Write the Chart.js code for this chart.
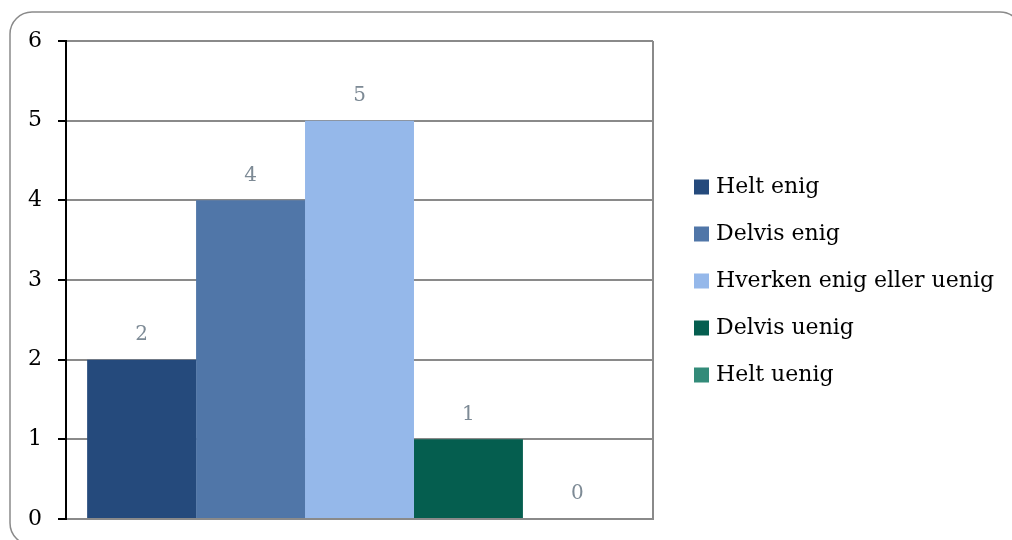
<!DOCTYPE html>
<html>
<head>
<meta charset="utf-8">
<style>
  html, body { margin: 0; padding: 0; background: #ffffff; }
  #wrap { width: 1012px; height: 540px; position: relative; }
</style>
<script src="https://cdn.jsdelivr.net/npm/chart.js@4/dist/chart.umd.min.js"></script>
</head>
<body>
<div id="wrap"><canvas id="c" width="1012" height="540"></canvas></div>
<script>
const categories = [''];
const seriesNames = ['Helt enig', 'Delvis enig', 'Hverken enig eller uenig', 'Delvis uenig', 'Helt uenig'];
const seriesValues = [2, 4, 5, 1, 0];
const seriesColors = ['#254A7C', '#5076A8', '#95B8EA', '#055E4F', '#338B79'];
const yTicks = [0, 1, 2, 3, 4, 5, 6];

const FONT = '"DejaVu Serif", "Liberation Serif", serif';

const frame = {
  id: 'frame',
  beforeDraw(chart) {
    const ctx = chart.ctx;
    ctx.save();
    ctx.strokeStyle = '#8a8a8a';
    ctx.lineWidth = 1.5;
    ctx.beginPath();
    ctx.roundRect(10, 12, 1012, 533, 22);
    ctx.stroke();
    ctx.restore();
  }
};

const valueLabels = {
  id: 'valueLabels',
  afterDatasetsDraw(chart) {
    const ctx = chart.ctx;
    ctx.save();
    ctx.font = '20px ' + FONT;
    ctx.fillStyle = '#7D8A95';
    ctx.textAlign = 'center';
    ctx.textBaseline = 'middle';
    chart.data.datasets.forEach((ds, i) => {
      const meta = chart.getDatasetMeta(i);
      meta.data.forEach((el, j) => {
        ctx.fillText(String(ds.data[j]), el.x, el.y - 25);
      });
    });
    ctx.restore();
  }
};

const sideLegend = {
  id: 'sideLegend',
  afterDraw(chart) {
    const ctx = chart.ctx;
    const area = chart.chartArea;
    ctx.save();
    ctx.font = '22px ' + FONT;
    ctx.textBaseline = 'middle';
    ctx.textAlign = 'left';
    const x0 = area.right + 41;
    const y0 = 187;
    const step = 47;
    chart.data.datasets.forEach((ds, i) => {
      const y = y0 + i * step;
      ctx.fillStyle = ds.backgroundColor;
      ctx.fillRect(x0, y - 7.5, 15, 15);
      ctx.fillStyle = '#000000';
      ctx.fillText(ds.label, x0 + 22, y);
    });
    ctx.restore();
  }
};

const datasets = seriesNames.map((name, i) => ({
  label: name,
  data: [seriesValues[i]],
  backgroundColor: seriesColors[i],
  borderWidth: 0,
  categoryPercentage: 0.928,
  barPercentage: 1.0
}));

new Chart(document.getElementById('c'), {
  type: 'bar',
  data: { labels: categories, datasets },
  options: {
    responsive: false,
    animation: false,
    devicePixelRatio: 1,
    layout: { padding: { top: 41, bottom: 21, left: 0, right: 359 } },
    plugins: {
      legend: { display: false },
      tooltip: { enabled: false }
    },
    scales: {
      x: {
        grid: { display: true, color: '#8a8a8a', lineWidth: 2, drawTicks: false, offset: true },
        border: { display: true, color: '#8a8a8a', width: 2 },
        ticks: { display: false },
        afterFit(scale) { scale.height = 0; scale.paddingLeft = 0; scale.paddingRight = 0; }
      },
      y: {
        min: yTicks[0],
        max: yTicks[yTicks.length - 1],
        afterBuildTicks(scale) { scale.ticks = yTicks.map(v => ({ value: v })); },
        ticks: {
          font: { family: FONT, size: 22 },
          color: '#000000',
          padding: 16
        },
        grid: { color: '#8a8a8a', lineWidth: 2, tickColor: '#000000', tickLength: 8, drawTicks: true },
        border: { display: true, color: '#000000', width: 2, z: 1 },
        afterFit(scale) { scale.width = 66; scale.paddingTop = 0; scale.paddingBottom = 0; }
      }
    }
  },
  plugins: [frame, valueLabels, sideLegend]
});
</script>
</body>
</html>
